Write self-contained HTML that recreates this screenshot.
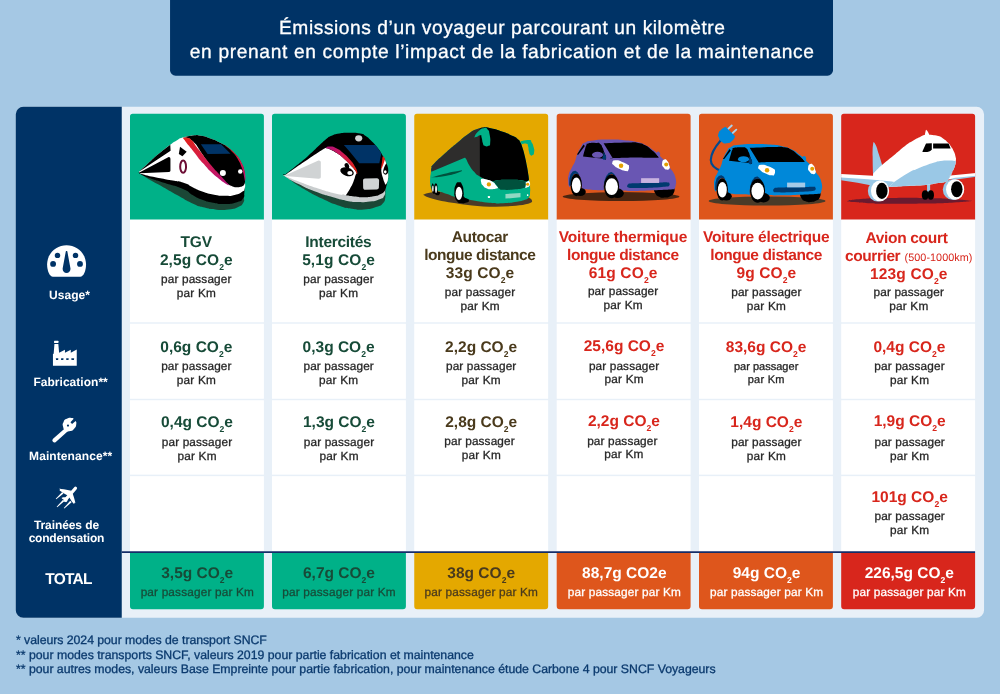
<!DOCTYPE html>
<html lang="fr">
<head>
<meta charset="utf-8">
<title>Émissions d’un voyageur parcourant un kilomètre</title>
<style>
*{box-sizing:border-box;margin:0;padding:0}
html,body{width:1000px;height:694px;overflow:hidden}
body{background:#a5c8e4;font-family:"Liberation Sans",Arial,sans-serif;position:relative;text-rendering:geometricPrecision}
.bg{position:absolute;left:0;top:0;display:block}
.title{position:absolute;left:170px;top:0;width:663px;height:76px;color:#fff;-webkit-text-stroke:.3px currentColor;text-align:center;font-size:19.2px;white-space:nowrap}
.title div{position:absolute;left:0;width:100%;line-height:24px}
.panel{position:absolute;left:0;top:0;width:1000px;height:0}
.side{position:absolute;left:16px;top:0;width:106px;height:0;color:#fff;text-align:center;font-weight:bold;font-size:12px}
.lab{position:absolute;left:0;width:106px;line-height:14px;white-space:nowrap}
.col{position:absolute;top:0;width:133.9px;height:0}
.cell{position:absolute;left:0;width:100%;height:0;text-align:center;white-space:nowrap}
.r1{top:219px}.r2{top:323px}.r3{top:400px}.r4{top:476px}.tot{top:552px}
.v,.s{position:absolute;left:0;width:100%}
.v{font-weight:bold;font-size:15.5px;line-height:18px}
.v small{font-weight:normal;font-size:10.8px;letter-spacing:.06px}
.cr{letter-spacing:-.42px}
.v sub{font-size:8.6px;line-height:0;vertical-align:-4.8px;letter-spacing:0}
.s{font-size:11.8px;line-height:14px;color:#262626;-webkit-text-stroke:.3px currentColor}
.g .v{color:#174b38}
.y .v{color:#4a3a1c}
.o .v,.r .v{color:#d8261c}
.g .tot .s{color:#174b38}
.y .tot .s{color:#4a3a1c}
.o .tot .v,.o .tot .s,.r .tot .v,.r .tot .s{color:#fff}
.notes{position:absolute;left:16px;top:0;color:#0b3a6e;font-size:12.3px;white-space:nowrap;-webkit-text-stroke:.3px currentColor}
.notes p{position:absolute;left:0;line-height:14px}

</style>
</head>
<body>
<svg class="bg" viewBox="0 0 1000 694" width="1000" height="694" aria-hidden="true"><defs><clipPath id="cp1"><path d="M132.7 113.65H261.2A2.7 2.7 0 0 1 263.9 116.35V219.65H130V116.35A2.7 2.7 0 0 1 132.7 113.65Z"/></clipPath><linearGradient id="tg1" x1="0" y1="0" x2="0" y2="1"><stop offset="0" stop-color="#e2231a"/><stop offset=".45" stop-color="#d41c4a"/><stop offset="1" stop-color="#b3107c"/></linearGradient><clipPath id="cp2"><path d="M274.7 113.65H403.2A2.7 2.7 0 0 1 405.9 116.35V219.65H272V116.35A2.7 2.7 0 0 1 274.7 113.65Z"/></clipPath><linearGradient id="ic1" x1="0" y1="0" x2="1" y2="1"><stop offset="0" stop-color="#b3107c"/><stop offset=".5" stop-color="#d41c4a"/><stop offset=".85" stop-color="#e2231a"/></linearGradient><clipPath id="cp3"><path d="M416.95 113.65H545.45A2.7 2.7 0 0 1 548.15 116.35V219.65H414.25V116.35A2.7 2.7 0 0 1 416.95 113.65Z"/></clipPath><clipPath id="cp4"><path d="M559.4 113.65H687.9A2.7 2.7 0 0 1 690.6 116.35V219.65H556.7V116.35A2.7 2.7 0 0 1 559.4 113.65Z"/></clipPath><clipPath id="cp5"><path d="M701.7 113.65H830.2A2.7 2.7 0 0 1 832.9 116.35V219.65H699V116.35A2.7 2.7 0 0 1 701.7 113.65Z"/></clipPath><clipPath id="cp6"><path d="M843.9 113.65H972.4A2.7 2.7 0 0 1 975.1 116.35V219.65H841.2V116.35A2.7 2.7 0 0 1 843.9 113.65Z"/></clipPath></defs>
<path class="b-title" d="M170.05 -10H833V70.15A5.5 5.5 0 0 1 827.5 75.65H175.55A5.5 5.5 0 0 1 170.05 70.15V-10Z" fill="#003366"/>
<path class="b-panel" d="M23.25 106.7H976.55A7.5 7.5 0 0 1 984.05 114.2V610.3A7.5 7.5 0 0 1 976.55 617.8H23.25A7.5 7.5 0 0 1 15.75 610.3V114.2A7.5 7.5 0 0 1 23.25 106.7Z" fill="#e8f0f8"/>
<path class="b-side" d="M23.25 106.7H121.75V617.8H23.25A7.5 7.5 0 0 1 15.75 610.3V114.2A7.5 7.5 0 0 1 23.25 106.7Z" fill="#003366"/>
<g class="icons" transform="translate(16 106.7)"><g class="ic-usage"><path d="M 36.95 170.09 C 33.38 170.09 31.11 163.73 31.11 157.89 C 31.11 146.87 39.86 138.56 50.57 138.56 C 61.27 138.56 70.03 146.87 70.03 157.89 C 70.03 163.73 67.76 170.09 64.19 170.09 Z" fill="#fff"/><circle cx="41.49" cy="148.68" r="2.72" fill="#003366"/><circle cx="59.52" cy="148.68" r="2.72" fill="#003366"/><circle cx="37.08" cy="157.25" r="2.92" fill="#003366"/><circle cx="63.99" cy="157.25" r="2.92" fill="#003366"/><path d="M 49.79 144.79 C 50.11 144.14 51.02 144.14 51.35 144.79 L 54.39 161.27 C 54.91 164.06 53.16 166.2 50.57 166.2 C 47.97 166.2 46.22 164.06 46.74 161.27 Z" fill="#003366"/></g><g class="ic-fab"><rect x="38.05" y="234.06" width="4.41" height="2.34" rx="0.52" fill="#fff"/><path d="M 38.44 237.36 L 42.33 237.36 L 43.11 245.93 L 48.95 242.94 L 48.95 245.93 L 54.78 242.94 L 54.78 245.93 L 60.75 242.81 L 60.75 259.03 L 36.95 259.03 L 36.95 247.35 L 37.66 247.09 Z" fill="#fff"/><rect x="39.99" y="251.51" width="2.21" height="1.82" rx="0.19" fill="#003366"/><rect x="45.05" y="251.51" width="2.34" height="1.82" rx="0.19" fill="#003366"/><rect x="50.24" y="251.51" width="2.34" height="1.82" rx="0.19" fill="#003366"/><rect x="55.43" y="251.51" width="2.59" height="1.82" rx="0.19" fill="#003366"/></g><g class="ic-maint"><path d="M 38.44 333.66 L 51.54 322.11" stroke="#fff" stroke-width="4.15" stroke-linecap="round" fill="none"/><path d="M 55.43 311.21 C 57.7 311.21 56.94 311.78 57.7 312.06 L 54.46 315.62 L 56.08 317.25 L 59.65 314.2 C 59.86 315.22 60.73 314.72 60.3 317.25 C 59.86 319.78 60.41 319.41 58.35 321.79 C 56.3 324.17 57.05 323.73 54.14 324.38 C 51.22 325.03 51.93 325.14 49.59 323.73 C 47.26 322.32 47.78 323.08 47.13 320.16 C 46.48 317.25 46.4 317.68 47.65 314.98 C 48.9 312.27 48.3 313.31 50.89 312.06 C 53.49 310.8 53.16 311.21 55.43 311.21 Z" fill="#fff"/><circle cx="51.99" cy="318.87" r="1.10" fill="#003366"/></g><g class="ic-trail"><path d="M 48.95 393.68 L 59.45 381.55" stroke="#fff" stroke-width="3.24" stroke-linecap="round" fill="none"/><path d="M 55.43 383.95 C 51.98 383.36 48.84 382.41 45.05 382.2 C 41.27 381.98 44.19 382.5 44.08 383.3 C 43.97 384.1 42.02 382.65 44.73 384.6 C 47.43 386.54 49.7 387.63 52.19 389.14 L 55.43 383.95 Z" fill="#fff"/><path d="M 56.73 386.87 C 57.49 389.46 58.4 391.58 59 394.65 C 59.6 397.72 59.19 395.54 58.55 396.08 C 57.9 396.62 58.95 398.26 57.05 396.27 C 55.15 394.28 54.25 392.17 52.84 390.11 L 56.73 386.87 Z" fill="#fff"/><path d="M 49.59 390.44 C 48.56 390.55 47.6 390.26 46.48 390.76 C 45.36 391.26 45.4 391.06 46.22 391.93 C 47.05 392.79 48.04 392.88 48.95 393.35 C 49.16 393.89 49.06 394.37 49.59 394.98 C 50.13 395.58 49.81 395.82 50.57 395.17 C 51.33 394.52 51.43 393.74 51.86 393.03 L 49.59 390.44 Z" fill="#fff"/><path d="M 46.22 385.37 L 47.53 386.81 L 40.25 392.6 L 39.74 392.03 Z" fill="#fff"/><path d="M 46.83 393.18 L 48.21 394.57 L 41.24 400.64 L 40.7 400.08 Z" fill="#fff"/><path d="M 54.23 394.09 L 55.6 395.48 L 48.38 401.81 L 47.83 401.25 Z" fill="#fff"/></g></g>
<g class="b-col b-g">
<path d="M132.7 113.65H261.2A2.7 2.7 0 0 1 263.9 116.35V219.65H130V116.35A2.7 2.7 0 0 1 132.7 113.65Z" fill="#00b188"/>
<g clip-path="url(#cp1)"><g transform="translate(130 114)"><path d="M 12.2 59.4 C 13 60.4 9 58.6 14.6 62.4 C 20.2 66.2 18.2 64.6 29 70.8 C 39.8 77 35.8 74.8 47 81 C 58.2 87.2 53.4 85.2 62.6 89.4 C 71.8 93.6 66.6 91.52 74.6 93.6 C 82.6 95.68 78.6 95.04 86.6 95.64 C 94.6 96.24 91.4 96.28 98.6 95.4 C 105.8 94.52 103.32 95.2 108.2 93 C 113.08 90.8 111.32 91.6 113.24 88.8 C 115.16 86 113.72 86 113.96 84.6 L 114.44 73.8 L 65 63 L 12.2 59.4 Z" fill="#1b4736"/><path d="M 9.44 57.96 C 9.76 58.68 7.08 58.12 10.4 60.12 C 13.72 62.12 11.2 61 19.4 63.96 C 27.6 66.92 23.8 65.32 35 69 C 46.2 72.68 43.8 71 53 75 C 62.2 79 56.2 77.4 62.6 81 C 69 84.6 65.4 83.2 72.2 85.8 C 79 88.4 75.4 87.4 83 88.8 C 90.6 90.2 87 90.2 95 90 C 103 89.8 101 90 107 88.2 C 113 86.4 110.6 87.4 113 84.6 C 115.4 81.8 113.8 81.4 114.2 79.8 L 114.92 69 L 65 60.6 L 9.44 57.96 Z" fill="#000"/><path d="M 8.97 57.7 C 11.6 55.29 10.28 56.45 16.89 50.49 C 23.5 44.5 20.98 46.39 28.79 39.78 C 36.58 33.17 34.46 35.03 40.27 30.67 C 46.09 26.31 42.13 29.08 46.22 26.71 C 50.32 24.32 47.81 25.2 52.57 23.53 C 57.33 21.87 57.04 22.37 60.49 21.7 C 63.95 21.04 59.48 21.55 62.93 21.55 C 66.39 21.55 64.78 20.66 70.85 21.7 C 76.93 22.76 74.56 22.27 81.15 24.72 C 87.77 27.17 84.6 25.86 90.67 29.08 C 96.75 32.31 94.11 30.3 99.4 34.4 C 104.69 38.49 102.52 36.62 106.53 41.37 C 110.55 46.13 108.88 43.91 111.45 48.66 C 114 53.42 112.97 51.2 114.21 55.64 C 115.46 60.08 114.91 58.01 115.18 61.99 C 115.44 65.95 115.06 65.62 115.01 67.52 C 114.96 69.43 115.01 67.64 115.01 67.69 C 114.89 69.97 115.76 71.09 114.68 74.52 C 113.6 77.96 115.16 75.84 111.8 78 C 108.45 80.17 110.2 79.72 104.6 80.99 C 99 82.29 102.2 82.04 94.99 81.84 C 87.8 81.64 90.6 81.87 82.99 80.4 C 75.4 78.92 79 79.8 72.21 77.4 C 65.4 75 68.59 76.01 62.59 73.21 C 56.6 70.41 61.4 71.28 54.19 69 C 47 66.73 51.39 68.43 41 66.36 C 30.6 64.27 33.2 65 23.01 62.77 C 12.8 60.51 14.6 60.68 10.39 59.63 L 8.97 57.7 Z" fill="#fff"/><path d="M 52.78 23.69 C 56.17 22.98 56.9 22.21 62.93 21.55 C 68.95 20.89 64.77 20.65 70.86 21.71 C 76.94 22.76 74.56 22.26 81.16 24.72 C 87.76 27.18 84.59 25.85 90.67 29.08 C 96.75 32.31 94.11 30.29 99.39 34.39 C 104.68 38.49 102.51 36.61 106.53 41.37 C 110.55 46.12 108.88 43.9 111.44 48.66 C 114 53.42 112.97 51.2 114.22 55.64 C 115.46 60.08 114.91 58.02 115.17 61.98 C 115.43 65.94 115.25 64.83 115.01 67.53 C 114.77 70.22 115.23 68.58 114.46 70.07 C 113.69 71.55 114.3 70.99 112.71 71.97 C 111.13 72.94 111.76 72.58 109.7 73 C 107.64 73.42 108.91 73.42 106.53 73.24 C 104.15 73.05 105.16 73.24 102.57 72.44 C 99.97 71.65 100.03 71.39 98.76 70.86 C 96.33 68.69 96.01 68.9 91.47 64.36 C 86.92 59.82 88.83 61.45 85.12 57.22 C 81.42 53 83.28 55.38 80.37 51.67 C 77.46 47.97 79.18 50.09 76.4 46.12 C 73.63 42.16 74.68 43.75 72.04 39.78 C 69.4 35.82 70.72 37.54 68.48 34.23 C 66.23 30.93 67.68 32.51 65.31 29.87 C 62.93 27.23 63.98 28.23 61.34 26.31 C 58.7 24.38 60.23 24.96 57.38 24.09 C 54.52 23.21 54.31 23.82 52.78 23.69 Z" fill="#000"/><path d="M 52.78 23.69 C 54.31 23.75 54.39 22.98 57.38 23.85 C 60.37 24.72 58.96 23.69 61.74 26.31 C 64.51 28.92 63.32 28.53 65.7 31.7 C 68.08 34.87 66.76 33.12 68.87 35.82 C 70.99 38.51 69.4 36.35 72.04 39.78 C 74.68 43.22 73.63 42.16 76.8 46.12 C 79.97 50.09 78.25 47.84 81.56 51.67 C 84.86 55.5 83.14 53.66 86.71 57.62 C 90.28 61.58 88.24 59.15 92.26 63.57 C 96.28 67.98 96.01 68.06 98.76 70.86 C 101.51 73.66 99.93 71.6 100.5 71.97 C 98.55 70.96 98.97 71.75 94.64 68.96 C 90.3 66.16 92 67.21 87.5 63.57 C 83.01 59.92 85.26 61.98 81.16 58.02 C 77.06 54.05 78.92 55.64 75.22 51.67 C 71.51 47.71 73.37 50.09 70.06 46.12 C 66.76 42.16 69.01 44.54 65.31 39.78 C 61.6 35.03 63.14 37.22 58.96 31.86 C 54.79 26.49 54.84 26.41 52.78 23.69 Z" fill="url(#tg1)"/><path d="M 92.26 29.64 C 94.64 31.22 94.64 30.48 99.39 34.39 C 104.15 38.3 102.51 36.61 106.53 41.37 C 110.55 46.12 108.88 43.9 111.44 48.66 C 114 53.42 112.97 51.2 114.22 55.64 C 115.46 60.08 114.91 58.02 115.17 61.98 C 115.43 65.94 115.07 65.68 115.01 67.53 C 114.75 66.2 114.8 66.47 114.22 63.57 C 113.64 60.66 114.19 62.46 113.27 58.81 C 112.34 55.16 113.11 56.93 111.44 52.63 C 109.78 48.32 111.07 50.48 108.27 45.89 C 105.47 41.29 106.93 43.19 103.04 38.83 C 99.16 34.47 100.21 35.87 96.62 32.81 C 93.03 29.74 93.71 30.69 92.26 29.64 Z" fill="url(#tg1)"/><path d="M 70.86 30.27 L 91.07 30.27 L 100.58 39.78 L 77.59 39.94 Z" fill="#003366"/><circle cx="92.89" cy="59.05" r="3.01" fill="#fff"/><circle cx="110.25" cy="57.46" r="2.22" fill="#fff"/><path d="M 8.96 57.7 C 11.6 55.3 10.29 56.45 16.89 50.48 C 23.49 44.52 20.99 46.39 28.78 39.78 C 36.58 33.18 36.45 33.7 40.28 30.67 L 40.59 36.77 L 39.09 37.72 L 8.96 57.7 Z" fill="#000"/><path d="M 9.36 58.57 L 38.69 43.03 C 39.88 42.95 40.44 43.75 40.44 44.94 L 40.44 56.59 C 40.44 57.54 39.88 57.94 39.09 57.94 L 9.76 59.36 Z" fill="#000"/><path d="M 50.03 32.81 L 56.69 37.72 L 52.41 42.32 L 48.84 40.1 Z" fill="#000"/><ellipse cx="53.12" cy="52.63" rx="2.93" ry="6.18" fill="none" stroke="#6d0e35" stroke-width="1.98"/></g></g>
<rect x="130" y="219.65" width="133.9" height="102.6" fill="#fff"/>
<rect x="130" y="323.75" width="133.9" height="75" fill="#fff"/>
<rect x="130" y="400.25" width="133.9" height="74.4" fill="#fff"/>
<rect x="130" y="476.15" width="133.9" height="75.15" fill="#fff"/>
<path d="M130 552.95H263.9V606.3A3 3 0 0 1 260.9 609.3H133A3 3 0 0 1 130 606.3V552.95Z" fill="#00b188"/>
</g>
<g class="b-col b-g">
<path d="M274.7 113.65H403.2A2.7 2.7 0 0 1 405.9 116.35V219.65H272V116.35A2.7 2.7 0 0 1 274.7 113.65Z" fill="#00b188"/>
<g clip-path="url(#cp2)"><g transform="translate(272.2 114)"><path d="M 13.8 61.56 C 14.6 62.52 10.2 59.96 16.2 64.44 C 22.2 68.92 20.6 68.28 31.8 75 C 43 81.72 38.6 79.2 49.8 84.6 C 61 90 55.4 87.8 65.4 91.2 C 75.4 94.6 71 93.4 79.8 94.8 C 88.6 96.2 83.8 96 91.8 95.4 C 99.8 94.8 97.48 95.08 103.8 93 C 110.12 90.92 107.64 92.36 110.76 89.16 C 113.88 85.96 112.36 85.32 113.16 83.4 L 113.4 69 L 67.8 63 L 13.8 61.56 Z" fill="#1b4736"/><path d="M 12.12 61.32 C 12.48 61.76 8.64 59.84 13.2 62.64 C 17.76 65.44 15.6 64.68 25.8 69.72 C 36 74.76 31.8 73.16 43.8 77.76 C 55.8 82.36 51.8 80.56 61.8 83.52 C 71.8 86.48 65.8 85.16 73.8 86.64 C 81.8 88.12 77.8 87.64 85.8 87.96 C 93.8 88.28 90.6 88.52 97.8 87.6 C 105 86.68 102.68 87.08 107.4 85.2 C 112.12 83.32 110.12 84.76 111.96 81.96 C 113.8 79.16 112.6 78.52 112.92 76.8 L 114.6 65.4 L 67.8 58.2 L 12.12 61.32 Z" fill="#c9cdce"/><path d="M 11.77 61.57 C 15.73 58.39 15.73 58.52 23.65 52.04 C 31.59 45.58 27.61 49.14 35.55 42.13 C 43.47 35.14 41.37 36.67 47.43 31.05 C 53.51 25.41 49.82 28.38 53.78 25.27 C 57.74 22.13 54.84 23.64 59.33 21.69 C 63.82 19.73 61.15 20.38 67.25 19.4 C 73.35 18.42 70.73 18.7 77.62 18.75 C 84.5 18.8 82.65 18.49 87.93 19.55 C 93.22 20.61 89.77 19.55 93.47 21.93 C 97.18 24.3 95.06 22.71 99.02 26.69 C 102.99 30.65 101.67 29.06 105.36 33.82 C 109.06 38.57 107.49 36.47 110.12 40.96 C 112.77 45.45 111.58 43.06 113.29 47.29 C 115.01 51.53 114.35 49.41 115.27 53.64 C 116.2 57.86 115.9 56.02 116.07 59.98 C 116.22 63.94 115.72 66.13 115.75 65.53 C 115.79 64.94 116.22 58.24 116.15 58.19 C 116.1 58.16 116.32 60.4 115.56 65.4 C 114.79 70.41 114.88 69.36 113.88 73.21 C 112.89 77.03 113 75.68 112.56 76.92 C 111.25 77.91 112.32 78.13 108.6 79.92 C 104.88 81.72 107.01 81.24 101.4 82.32 C 95.8 83.4 98.21 83.12 91.79 83.17 C 85.4 83.2 88.2 83.12 82.2 82.44 C 76.2 81.76 76.6 81.56 73.8 81.13 C 70.03 80.08 72.29 80.85 62.53 78 C 52.77 75.16 56.51 76.6 44.51 72.59 C 32.52 68.6 36.92 69.93 26.52 66 C 16.13 62.09 18.23 62.32 13.33 60.84 C 8.41 59.37 12.28 61.32 11.77 61.57 Z" fill="#000"/><path d="M 12.23 61.57 C 16.04 58.84 15.88 58.79 23.65 53.4 C 31.42 48 28.14 50.35 35.55 45.4 C 42.94 40.43 39.99 42.3 45.86 38.49 C 51.72 34.69 50.71 35.49 53.15 33.98 C 54.69 34.45 53.88 33.6 57.8 35.41 C 61.73 37.2 60.17 36.2 64.93 39.37 C 69.69 42.53 67.58 40.96 72.07 44.92 C 76.56 48.88 74.71 47.29 78.42 51.27 C 82.11 55.23 81.1 53.77 83.18 56.8 C 85.23 59.85 84.12 59.19 84.6 60.38 C 84.27 60.45 84.77 58.13 83.64 60.6 C 82.53 63.08 83.24 63 81.24 67.8 C 79.25 72.59 80.13 70.55 77.64 75 C 75.15 79.44 75.07 79.07 73.8 81.13 C 69.8 80.48 71.81 81.64 61.8 79.21 C 51.81 76.75 55.8 77.8 43.8 73.8 C 31.8 69.79 36.2 71.12 25.81 67.21 C 15.4 63.28 17.12 63.93 12.6 62.04 C 8.07 60.16 12.37 61.72 12.23 61.57 Z" fill="#fff"/><path d="M 53.2 33.9 C 54.73 33.4 54.15 32.29 57.8 32.39 C 61.45 32.49 59.65 31.94 64.14 34.22 C 68.64 36.49 66.78 35.43 71.28 39.21 C 75.77 42.99 73.92 41.33 77.62 45.55 C 81.32 49.78 79.94 47.87 82.38 51.89 C 84.81 55.91 84.17 54.77 84.91 57.6 C 85.65 60.43 84.7 59.45 84.6 60.38 C 84.12 59.19 85.23 59.84 83.17 56.81 C 81.11 53.77 82.11 55.22 78.41 51.26 C 74.71 47.3 76.56 48.94 72.07 44.92 C 67.57 40.9 69.16 42.17 64.93 39.21 C 60.71 36.25 62.56 37.62 59.39 36.04 C 56.21 34.45 57.48 35.17 55.42 34.45 C 53.36 33.74 53.94 34.08 53.2 33.9 Z" fill="url(#ic1)"/><path d="M 12.24 61.64 L 45.69 46.66 C 47.44 46.11 48.63 46.9 48.63 48.48 L 48.63 62.75 C 48.63 64.1 47.83 64.74 46.25 64.66 L 12.72 62.12 Z" fill="#d0d3d4"/><path d="M 71.67 31.04 L 103.38 31.04 L 109.17 39.21 L 107.11 49.28 L 86.97 49.28 L 77.62 37.78 Z" fill="#003366"/><ellipse cx="86.50" cy="24.31" rx="3.57" ry="3.09" fill="#d0d3d4"/><path d="M 110.76 42.06 C 111.45 43.23 112.34 42.88 112.82 45.55 C 113.29 48.22 113.24 46.84 112.18 50.07 C 111.13 53.3 110.49 53.5 109.65 55.22 L 108.69 54.59 C 109.07 52.42 109.33 51.44 109.8 48.09 C 110.28 44.73 109.8 46.53 110.12 44.52 C 110.44 42.52 110.54 42.88 110.76 42.06 Z" fill="#e2231a"/><path d="M 112.66 45.71 C 113.19 47.03 113.29 46.5 114.24 49.67 C 115.2 52.84 114.9 51.79 115.51 55.22 C 116.12 58.66 115.99 56.55 116.07 59.98 C 116.15 63.41 116.2 62.62 115.75 65.53 C 115.3 68.44 115.51 66.96 114.72 68.7 C 113.93 70.44 113.82 70.07 113.37 70.76 C 112.95 69.81 113.05 70.44 112.1 67.91 C 111.15 65.37 111.45 66.32 110.52 63.15 C 109.59 59.98 109.78 61.03 109.33 58.39 C 108.88 55.75 109.23 56.28 109.17 55.22 C 109.8 53.64 109.91 53.64 111.07 50.47 C 112.24 47.3 112.13 47.3 112.66 45.71 Z" fill="#fff"/><path d="M 114.24 49.36 C 116.07 52.84 116.46 56.81 115.75 58.87 C 115.04 60.93 112.5 61.41 111.39 59.58 C 110.28 57.6 111.71 52.84 114.24 49.36 Z" fill="#000"/><ellipse cx="113.05" cy="57.84" rx="1.35" ry="1.66" fill="#fff"/><ellipse cx="74.84" cy="57.76" rx="6.98" ry="4.12" transform="rotate(18 74.84 57.76)" fill="#000"/><ellipse cx="74.69" cy="51.89" rx="2.14" ry="2.85" transform="rotate(-25 74.69 51.89)" fill="#000"/><ellipse cx="77.70" cy="59.03" rx="2.62" ry="1.98" fill="#fff"/><path d="M 92.76 64.56 L 104.76 64.2 C 106.2 64.2 106.92 65.16 106.92 66.6 L 106.68 73.56 C 106.68 74.76 105.96 75.36 104.52 75.48 L 93.24 75.84 C 91.8 75.84 90.96 75 90.96 73.8 L 90.84 66.6 C 90.84 65.4 91.56 64.68 92.76 64.56 Z" fill="#d0d3d4"/></g></g>
<rect x="272" y="219.65" width="133.9" height="102.6" fill="#fff"/>
<rect x="272" y="323.75" width="133.9" height="75" fill="#fff"/>
<rect x="272" y="400.25" width="133.9" height="74.4" fill="#fff"/>
<rect x="272" y="476.15" width="133.9" height="75.15" fill="#fff"/>
<path d="M272 552.95H405.9V606.3A3 3 0 0 1 402.9 609.3H275A3 3 0 0 1 272 606.3V552.95Z" fill="#00b188"/>
</g>
<g class="b-col b-y">
<path d="M416.95 113.65H545.45A2.7 2.7 0 0 1 548.15 116.35V219.65H414.25V116.35A2.7 2.7 0 0 1 416.95 113.65Z" fill="#e4a800"/>
<g clip-path="url(#cp3)"><g transform="translate(414.4 114)"><path d="M 8.69 80.85 C 12.83 78.19 27.74 76.87 44.31 78.53 L 110.6 82.17 C 116.4 83.5 118.89 86.31 117.23 88.3 C 110.6 92.78 77.46 93.77 57.57 91.45 C 36.03 89.13 14.49 85.49 8.69 80.85 Z" fill="#4a3b28"/><path d="M 16.47 58.56 C 16.92 54.99 16.14 56.67 17.1 53.8 C 18.05 50.95 14.88 54.76 19.32 50.01 C 23.77 45.25 22.75 46.46 30.41 39.53 C 38.08 32.62 34.39 35.84 42.31 29.23 C 50.23 22.63 47.6 24.34 54.21 19.71 C 60.8 15.09 57.64 17.26 62.13 15.36 C 66.62 13.45 65.54 14.68 67.68 14.01 C 69.82 13.35 65.61 13.32 68.53 13.38 C 71.46 13.43 69.85 12.72 76.46 14.18 C 83.06 15.62 80.95 15.09 88.34 17.74 C 95.75 20.38 93.63 19.58 98.65 22.1 C 103.67 24.6 100.97 23.21 103.41 25.27 C 105.84 27.34 104.35 25.38 105.94 28.28 C 107.53 31.18 106.64 29.18 108.16 33.98 C 109.71 38.8 109.09 36.63 110.55 42.71 C 111.99 48.78 111.33 45.88 112.52 52.23 C 113.72 58.56 113.45 57.13 114.11 61.74 C 114.78 66.35 114.01 62.63 114.49 66.05 C 114.97 69.48 115.17 67.69 115.55 72 C 115.92 76.32 115.84 75.49 115.62 79.01 C 115.41 82.5 115.95 80.4 114.93 82.5 C 113.9 84.61 113.33 84.36 112.54 85.3 C 109.22 86.12 110.58 86.46 102.6 87.76 C 94.63 89.03 97.94 88.8 88.59 89.15 C 79.26 89.5 83.94 89.56 74.61 88.8 C 65.26 88.04 69.15 88.15 60.6 86.84 C 52.05 85.52 55.77 86.2 48.94 84.86 C 42.13 83.53 45.56 84.41 40.14 82.83 C 34.72 81.24 38.33 82.04 32.68 80.12 C 27.05 78.19 28.06 78.19 23.2 77.07 C 18.35 75.94 19.82 76.85 18.13 76.74 C 17.68 75.82 17.52 76.29 16.77 74.02 C 16.03 71.76 16.23 73.12 15.89 69.96 C 15.56 66.79 15.56 68.35 15.76 64.54 C 15.94 60.74 16.03 62.14 16.47 58.56 Z" fill="#00b188"/><path d="M 17.1 53.81 C 17.89 51.22 14.88 54.76 19.32 50 C 23.76 45.25 22.75 46.46 30.42 39.54 C 38.08 32.62 34.38 35.84 42.31 29.23 C 50.24 22.63 47.6 24.34 54.2 19.72 C 60.8 15.1 57.63 17.26 62.13 15.36 C 66.62 13.46 63.71 14.54 67.68 14.01 C 71.64 13.48 71.9 13.85 74.02 13.77 L 74.02 66.49 C 71.11 65.17 70.06 65.44 65.3 62.53 C 60.54 59.62 63.18 61.47 59.75 57.77 C 56.32 54.07 57.63 55.61 54.99 51.43 C 52.35 47.25 53.41 47.84 51.82 45.25 C 50.24 42.65 50.77 44.19 50.24 43.66 L 16.94 57.77 C 17 56.45 16.31 56.4 17.1 53.81 Z" fill="#2e2d2c"/><path d="M 65.36 14.96 C 66.42 14.43 64.83 13.65 68.53 13.38 C 72.22 13.12 69.85 12.72 76.46 14.18 C 83.06 15.62 80.95 15.09 88.34 17.74 C 95.75 20.38 93.63 19.58 98.65 22.1 C 103.67 24.6 100.97 23.21 103.41 25.27 C 105.84 27.34 104.35 25.38 105.94 28.28 C 107.53 31.18 106.64 29.18 108.16 33.98 C 109.71 38.8 109.09 36.63 110.55 42.71 C 111.99 48.78 111.33 45.88 112.52 52.23 C 113.72 58.56 113.45 57.13 114.11 61.74 C 114.78 66.35 114.38 64.61 114.49 66.05 C 113.38 66.54 113.95 67.49 111.15 67.52 C 108.35 67.54 111.28 66.73 106.09 66.11 C 100.92 65.52 103.06 65.72 95.6 65.7 C 88.13 65.68 89.54 65.45 83.7 66.05 C 77.87 66.66 82.3 67.87 78.1 67.52 C 73.89 67.17 75.3 66.78 71.09 65 C 66.9 63.23 67.37 63.13 65.49 62.2 L 65.36 14.96 Z" fill="#000"/><path d="M 60.38 22.26 C 61.31 20.14 61.55 19.4 64.51 16.71 C 67.46 14.01 66.35 14.59 69.26 14.17 C 72.17 13.75 71.25 13.32 73.23 15.44 C 75.21 17.56 74.36 15.92 75.21 20.51 C 76.06 25.11 76.11 25.48 75.76 29.23 C 75.42 32.98 76.03 30.92 74.18 31.77 C 72.33 32.62 72.12 32.62 70.21 31.77 C 68.31 30.92 69.45 31.93 68.47 29.23 C 67.5 26.54 68.13 26.38 67.28 23.68 C 66.43 20.99 67.78 21.36 65.93 21.15 C 64.09 20.93 63.58 22.68 61.73 23.05 C 59.89 23.42 59.46 24.37 60.38 22.26 Z" fill="#00b188"/><path d="M 105.95 27.33 C 108.8 26.91 110.73 25.69 114.51 26.06 C 118.29 26.43 115.7 26.06 117.28 28.44 C 118.87 30.82 118.45 30.03 119.26 33.2 C 120.08 36.37 120.08 35.31 119.74 37.95 C 119.4 40.59 119.53 40.2 118.23 41.12 C 116.94 42.05 117.1 42.05 115.85 40.73 C 114.61 39.4 115.22 39.94 114.51 37.16 C 113.79 34.39 114.51 34.89 113.71 32.4 C 112.92 29.92 114.29 30.45 112.13 29.71 C 109.96 28.97 108.85 30.03 107.21 30.18 L 105.95 27.33 Z" fill="#00b188"/><path d="M 16.44 63.46 C 21.85 62.02 22.19 61.52 32.69 59.13 C 43.18 56.74 42.85 57.23 47.93 56.28 C 46.46 57.09 49.73 56.74 43.52 58.72 C 37.31 60.7 38.33 60.66 29.3 62.24 C 20.27 63.82 20.72 63.05 16.44 63.46 Z" fill="#00513d"/><path d="M 17.79 69.96 C 18.42 68.61 18.53 69.06 19.14 70.64 C 19.75 72.22 19.28 74.7 19.62 74.7 C 19.96 74.7 19.48 72.33 20.16 70.64 C 20.84 68.95 20.75 69.4 21.65 69.62 C 22.55 69.85 22.31 68.95 22.87 71.32 C 23.43 73.69 22.55 74.48 23.34 76.73 C 24.13 78.99 24.72 76.85 25.24 78.09 C 25.76 79.33 25.8 79.44 24.9 80.46 C 24 81.47 24.11 81.36 22.53 81.14 C 20.95 80.91 21.51 80.46 20.16 79.78 C 18.81 79.1 19.44 80.8 18.47 79.1 C 17.5 77.41 17.47 77.75 17.25 74.7 C 17.02 71.65 17.16 71.32 17.79 69.96 Z" fill="#000"/><ellipse cx="18.47" cy="74.70" rx="0.74" ry="3.25" fill="#fff"/><ellipse cx="21.65" cy="75.18" rx="0.88" ry="3.72" fill="#fff"/><path d="M 44.54 68.27 C 46.79 68.27 46.35 67.81 47.93 71.32 C 49.5 74.82 48.72 74.93 49.28 78.77 C 49.84 82.6 48.38 80.8 49.62 82.83 C 50.86 84.86 51.38 83.62 53 84.86 C 54.63 86.1 54.72 85.31 54.49 86.55 C 54.27 87.79 55.08 87.75 52.33 88.58 C 49.57 89.42 49.5 89.62 46.23 89.06 C 42.96 88.5 44.42 88.97 42.51 86.89 C 40.59 84.81 41.31 85.76 40.48 82.83 C 39.64 79.9 39.78 81.93 40 78.09 C 40.23 74.25 39.64 74.59 41.15 71.32 C 42.66 68.05 42.28 68.27 44.54 68.27 Z" fill="#000"/><ellipse cx="44.54" cy="79.31" rx="3.32" ry="6.57" fill="#fff"/><path d="M 79.85 67.8 C 80.55 66.03 79.15 66.77 84.4 66.12 C 89.65 65.47 88.37 65.79 95.6 65.84 C 102.83 65.89 100.92 65.61 106.1 66.26 C 111.28 66.91 109.39 66.12 111.14 67.8 C 112.89 69.48 112.1 69.2 111.35 71.3 C 110.6 73.4 112.98 72.7 108.9 74.1 C 104.82 75.5 105.87 74.92 99.1 75.5 C 92.33 76.08 93.27 76.08 88.6 75.85 C 83.93 75.62 87.2 76.27 85.1 74.8 C 83 73.33 84.05 73.77 82.3 71.44 C 80.55 69.11 79.15 69.57 79.85 67.8 Z" fill="#00513d"/><path d="M 66.55 65 C 68.07 65.12 67.25 64.42 71.1 65.35 C 74.95 66.28 74.6 65.82 78.1 67.8 C 81.6 69.78 79.69 69.2 81.6 71.3 C 83.51 73.4 83.09 73.17 83.84 74.1 C 81.93 74.45 81.88 75.03 78.1 75.15 C 74.32 75.27 75.77 75.73 72.5 74.45 C 69.23 73.17 70.21 73.4 68.3 71.3 C 66.39 69.2 67.34 70.25 66.76 68.15 C 66.18 66.05 66.62 66.05 66.55 65 Z" fill="#fff"/><circle cx="74.46" cy="70.46" r="2.10" fill="#e4a000"/><path d="M 111.14 68.5 L 114.5 66.75 C 114.87 67.61 115.48 67.59 115.62 69.34 C 115.76 71.09 115.95 70.65 114.92 72 C 113.89 73.35 113.99 72.79 112.54 73.4 C 111.09 74.01 111.23 73.68 110.58 73.82 C 110.86 72.98 111.23 73.07 111.42 71.3 C 111.61 69.53 111.23 69.43 111.14 68.5 Z" fill="#fff"/><circle cx="113.24" cy="70.25" r="1.54" fill="#e4a000"/><path d="M 91.05 80.05 L 106.1 79 L 106.1 83.34 L 91.05 84.6 Z" fill="#8fd8c3"/><rect x="73.48" y="82.01" width="2.10" height="2.10" rx="0.42" fill="#fff"/><rect x="112.54" y="80.19" width="1.40" height="1.89" rx="0.42" fill="#fff"/></g></g>
<rect x="414.25" y="219.65" width="133.9" height="102.6" fill="#fff"/>
<rect x="414.25" y="323.75" width="133.9" height="75" fill="#fff"/>
<rect x="414.25" y="400.25" width="133.9" height="74.4" fill="#fff"/>
<rect x="414.25" y="476.15" width="133.9" height="75.15" fill="#fff"/>
<path d="M414.25 552.95H548.15V606.3A3 3 0 0 1 545.15 609.3H417.25A3 3 0 0 1 414.25 606.3V552.95Z" fill="#e4a800"/>
</g>
<g class="b-col b-o">
<path d="M559.4 113.65H687.9A2.7 2.7 0 0 1 690.6 116.35V219.65H556.7V116.35A2.7 2.7 0 0 1 559.4 113.65Z" fill="#de561c"/>
<g clip-path="url(#cp4)"><g transform="translate(556.6 114)"><ellipse cx="64.50" cy="82.60" rx="58.4" ry="4.5" fill="#4a2510"/><path d="M 97.05 74.1 L 118.05 74.1 C 117.75 75.73 118.61 76.32 117.14 79 C 115.67 81.68 116.49 80.63 113.64 82.15 C 110.79 83.67 112.15 83.29 108.6 83.55 C 105.05 83.81 106.22 84.16 103 82.92 C 99.78 81.68 100.92 82.78 98.94 79.84 C 96.96 76.9 97.68 76.01 97.05 74.1 Z" fill="#000"/><path d="M 12.53 72.53 C 11.75 70.85 11.72 70.94 11.58 66.98 C 11.45 63.01 11.02 64.87 12.13 60.65 C 13.24 56.4 12.79 58.79 14.92 54.3 C 17.02 49.81 16.64 51.65 18.48 47.16 C 20.33 42.67 18.48 45.58 20.47 40.83 C 22.44 36.07 21.78 36.98 24.43 32.89 C 27.06 28.79 24.16 30.7 28.39 28.53 C 32.61 26.36 28.92 27.37 37.1 26.39 C 45.31 25.41 42.9 25.68 52.96 25.6 C 63.02 25.51 58.55 25.45 67.3 26.16 C 76.03 26.87 72.05 26.16 79.18 27.73 C 86.32 29.33 82.87 28.13 88.69 30.92 C 94.51 33.68 92.39 33.02 96.63 36.07 C 100.85 39.1 98.2 37.11 101.39 40.03 C 104.55 42.93 102.96 41.87 106.14 44.79 C 109.31 47.69 108.38 45.58 110.9 48.75 C 113.4 51.91 111.76 51.12 113.66 54.3 C 115.57 57.46 114.89 55.09 116.6 58.26 C 118.32 61.42 117.79 59.85 118.82 63.81 C 119.85 67.77 119.48 68.58 119.7 70.16 C 119.9 71.71 119.75 67.65 119.45 68.5 C 119.17 69.35 119.4 70.46 118.82 72.69 C 118.24 74.95 118.07 74.38 117.71 75.23 C 110.93 75.58 111.16 75.69 97.41 76.27 C 83.64 76.85 87.95 76.85 76.4 76.97 C 64.85 77.08 67.3 76.74 62.76 76.62 C 62.29 74.61 63.02 75.41 61.4 70.6 C 59.79 65.8 60.47 65.58 57.9 62.2 C 55.33 58.82 56.86 59.05 53.69 60.45 C 50.54 61.85 50.59 61.11 48.46 66.4 C 46.3 71.7 47.66 73.02 47.26 76.34 C 43.8 76.21 44.08 76.29 36.91 75.92 C 29.71 75.54 29.43 75.46 25.7 75.23 C 25.36 73.69 25.59 74.83 24.64 70.6 C 23.71 66.38 24.64 66.16 22.9 62.55 C 21.15 58.94 21.97 59.4 19.41 59.75 C 16.84 60.1 17.02 59.52 15.2 63.59 C 13.37 67.69 14.35 69.2 13.94 72 C 13.47 72.18 13.32 74.2 12.53 72.53 Z" fill="#6956b3"/><path d="M 12.68 71.58 C 12.68 70.09 12.42 70.23 12.68 67.1 C 12.94 63.97 12.61 65 13.45 62.2 C 14.29 59.4 13.8 60.43 15.2 58.7 C 16.6 56.97 15.97 57.35 17.65 57.02 C 19.33 56.69 18.54 56.46 20.24 57.72 C 21.94 58.98 21.92 59.77 22.76 60.8 C 22.22 60.68 22.39 60.8 21.15 60.45 C 19.91 60.1 20.57 59.4 19.05 59.75 C 17.53 60.1 18 59.28 16.6 61.5 C 15.2 63.72 15.69 62.9 14.85 66.4 C 14.01 69.9 14.34 70.13 14.08 72 L 12.68 71.58 Z" fill="#003a70"/><path d="M 47.26 75.36 C 47.31 73.54 46.89 73.59 47.4 69.9 C 47.91 66.21 47.63 67.45 48.8 64.3 C 49.97 61.15 49.38 62.41 50.9 60.45 C 52.42 58.49 51.53 58.91 53.35 58.42 C 55.17 57.93 54.42 57.67 56.36 58.98 C 58.3 60.29 58.23 61.22 59.16 62.34 C 58.51 62.06 58.79 62.13 57.2 61.5 C 55.61 60.87 56.27 60.1 54.4 60.45 C 52.53 60.8 53.47 60.1 51.6 62.55 C 49.73 65 50.06 63.72 48.8 67.8 C 47.54 71.88 48.15 72.47 47.82 74.8 L 47.26 75.36 Z" fill="#003a70"/><ellipse cx="23.74" cy="77.95" rx="5.46" ry="4.06" fill="#000"/><ellipse cx="19.61" cy="70.95" rx="5.67" ry="11.20" fill="#000"/><ellipse cx="61.05" cy="79.35" rx="6.16" ry="4.76" fill="#000"/><ellipse cx="54.96" cy="72.35" rx="7.56" ry="11.90" fill="#000"/><ellipse cx="19.75" cy="71.30" rx="4.48" ry="7.70" fill="#fff"/><ellipse cx="55.10" cy="72.70" rx="6.30" ry="8.40" fill="#fff"/><path d="M 26.96 30.51 L 28.23 32.1 L 21.65 40.66 L 20.3 40.5 L 26.96 30.51 Z" fill="#000"/><path d="M 31.56 29.4 C 34.79 28.61 35.47 28.77 39.49 28.93 C 43.51 29.09 41.45 28.29 43.61 29.88 C 45.77 31.46 44.67 30.96 45.99 33.68 C 47.31 36.4 46.41 34.66 47.57 38.04 C 48.74 41.43 49.4 41.27 49.48 43.83 C 49.56 46.39 49.29 45.52 47.81 45.73 C 46.33 45.95 52.17 45.58 45.04 44.47 C 37.9 43.36 32.62 43.09 26.41 42.4 C 27.07 40.03 27.26 38.97 28.39 35.27 C 29.52 31.57 28.76 33.26 29.82 31.31 C 30.87 29.35 28.33 30.2 31.56 29.4 Z" fill="#000"/><path d="M 46.62 37.81 C 47.28 38.81 47.65 38.81 48.6 40.82 C 49.56 42.82 49.74 42.19 49.48 43.83 C 49.22 45.47 49.16 45.63 47.81 45.73 C 46.46 45.84 46.23 44.68 45.43 44.15 C 45.83 43.17 46.23 43.33 46.62 41.22 C 47.02 39.1 46.62 38.94 46.62 37.81 Z" fill="#003a70"/><ellipse cx="40.92" cy="40.82" rx="5.55" ry="3.01" fill="#6956b3"/><path d="M 47.01 29.33 C 55.1 29.06 59.74 28.66 71.26 28.53 C 82.78 28.4 75.75 28 81.57 28.93 C 87.38 29.86 84.2 28.93 88.69 31.31 C 93.18 33.68 91.34 33.02 95.04 36.07 C 98.73 39.1 97.36 37.89 99.79 40.43 C 102.23 42.96 101.48 42.58 102.33 43.68 C 97.26 43.68 97.47 43.68 87.12 43.68 C 76.74 43.68 81.83 43.54 71.26 43.68 C 60.69 43.81 60.44 43.91 55.4 44.07 C 50.36 44.22 55.9 44.12 56.13 44.16 L 47.01 29.33 Z" fill="#000"/><ellipse cx="101.78" cy="39.87" rx="1.74" ry="2.38" transform="rotate(-20 101.78 39.87)" fill="#6956b3"/><path d="M 55.74 48.59 C 56.27 46.79 56 46.58 59.31 46.37 C 62.61 46.15 61.29 46.31 65.65 47.95 C 70.01 49.59 70.14 50.17 72.39 51.28 C 72.21 52.81 73.02 54 71.83 55.88 C 70.64 57.76 71.94 57.28 68.82 56.91 C 65.7 56.54 66.18 56.49 62.48 54.77 C 58.78 53.05 59.97 53.82 57.72 51.76 C 55.48 49.7 55.21 50.39 55.74 48.59 Z" fill="#fff"/><circle cx="64.46" cy="51.76" r="2.22" fill="#e4a000"/><path d="M 105.5 49.38 C 105.76 46.84 105.92 46.31 107.72 45.58 C 109.52 44.84 109.31 45.31 110.89 47.16 C 112.48 49.01 111.79 48.75 112.48 51.12 C 113.17 53.5 113.75 52.81 112.95 54.3 C 112.16 55.78 112.11 55.94 110.1 55.56 C 108.09 55.19 108.46 55.25 106.93 53.19 C 105.4 51.12 105.24 51.92 105.5 49.38 Z" fill="#fff"/><circle cx="109.62" cy="50.41" r="1.98" fill="#e4a000"/><path d="M 70.62 71.89 C 70.76 70.84 70.52 70.97 71.65 70.15 C 72.79 69.33 68.88 69.83 74.03 69.44 C 79.18 69.04 77.46 69.28 87.11 68.96 C 96.76 68.64 95.04 68.67 102.97 68.49 C 110.89 68.3 107.67 68.17 110.89 68.41 C 114.12 68.64 111.92 68.49 112.64 69.2 C 113.35 69.91 113.19 69.62 113.03 70.55 C 112.87 71.47 113.14 71.28 112.16 71.97 C 111.19 72.66 113.17 72.21 110.1 72.61 C 107.03 73 110.63 72.74 102.97 73.16 C 95.3 73.58 96.88 73.61 87.11 73.88 C 77.34 74.14 78.92 74.14 73.63 73.96 C 68.35 73.77 72.26 74.01 71.26 73.32 C 70.25 72.63 70.49 72.95 70.62 71.89 Z" fill="#003a70"/><rect x="84.49" y="64.20" width="18.07" height="4.76" fill="#c9b3e0"/></g></g>
<rect x="556.7" y="219.65" width="133.9" height="102.6" fill="#fff"/>
<rect x="556.7" y="323.75" width="133.9" height="75" fill="#fff"/>
<rect x="556.7" y="400.25" width="133.9" height="74.4" fill="#fff"/>
<rect x="556.7" y="476.15" width="133.9" height="75.15" fill="#fff"/>
<path d="M556.7 552.95H690.6V606.3A3 3 0 0 1 687.6 609.3H559.7A3 3 0 0 1 556.7 606.3V552.95Z" fill="#de561c"/>
</g>
<g class="b-col b-o">
<path d="M701.7 113.65H830.2A2.7 2.7 0 0 1 832.9 116.35V219.65H699V116.35A2.7 2.7 0 0 1 701.7 113.65Z" fill="#de561c"/>
<g clip-path="url(#cp5)"><g transform="translate(698.8 114)"><path d="M 21.8 26.45 C 16.88 32.16 12.13 39.3 11.97 46.03 C 11.97 51.19 16.09 54.75 23.23 57.53" fill="none" stroke="#004a8f" stroke-width="2.14" stroke-linecap="round"/><path d="M 29.41 14.88 L 32.98 11.55" stroke="#a8d4ee" stroke-width="1.90" stroke-linecap="round" fill="none"/><path d="M 33.85 19.00 L 37.50 15.67" stroke="#a8d4ee" stroke-width="1.90" stroke-linecap="round" fill="none"/><path d="M 26.79 12.66 L 36.31 22.25 C 35.43 23.65 36.33 24.15 33.69 26.45 C 31.05 28.75 31.92 28.67 28.38 29.15 C 24.84 29.62 25.84 29.73 23.07 27.88 C 20.29 26.03 21.16 26.4 20.06 23.6 C 18.95 20.8 19 22.12 19.74 19.48 C 20.48 16.84 19.92 17.95 22.27 15.67 C 24.63 13.4 25.29 13.67 26.79 12.66 Z" fill="#0088d9"/><g transform="translate(3.8 4.4)"><ellipse cx="64.50" cy="82.60" rx="58.4" ry="4.5" fill="#4a3b28"/><path d="M 97.05 74.1 L 118.05 74.1 C 117.75 75.73 118.61 76.32 117.14 79 C 115.67 81.68 116.49 80.63 113.64 82.15 C 110.79 83.67 112.15 83.29 108.6 83.55 C 105.05 83.81 106.22 84.16 103 82.92 C 99.78 81.68 100.92 82.78 98.94 79.84 C 96.96 76.9 97.68 76.01 97.05 74.1 Z" fill="#000"/><path d="M 12.53 72.53 C 11.75 70.85 11.72 70.94 11.58 66.98 C 11.45 63.01 11.02 64.87 12.13 60.65 C 13.24 56.4 12.79 58.79 14.92 54.3 C 17.02 49.81 16.64 51.65 18.48 47.16 C 20.33 42.67 18.48 45.58 20.47 40.83 C 22.44 36.07 21.78 36.98 24.43 32.89 C 27.06 28.79 24.16 30.7 28.39 28.53 C 32.61 26.36 28.92 27.37 37.1 26.39 C 45.31 25.41 42.9 25.68 52.96 25.6 C 63.02 25.51 58.55 25.45 67.3 26.16 C 76.03 26.87 72.05 26.16 79.18 27.73 C 86.32 29.33 82.87 28.13 88.69 30.92 C 94.51 33.68 92.39 33.02 96.63 36.07 C 100.85 39.1 98.2 37.11 101.39 40.03 C 104.55 42.93 102.96 41.87 106.14 44.79 C 109.31 47.69 108.38 45.58 110.9 48.75 C 113.4 51.91 111.76 51.12 113.66 54.3 C 115.57 57.46 114.89 55.09 116.6 58.26 C 118.32 61.42 117.79 59.85 118.82 63.81 C 119.85 67.77 119.48 68.58 119.7 70.16 C 119.9 71.71 119.75 67.65 119.45 68.5 C 119.17 69.35 119.4 70.46 118.82 72.69 C 118.24 74.95 118.07 74.38 117.71 75.23 C 110.93 75.58 111.16 75.69 97.41 76.27 C 83.64 76.85 87.95 76.85 76.4 76.97 C 64.85 77.08 67.3 76.74 62.76 76.62 C 62.29 74.61 63.02 75.41 61.4 70.6 C 59.79 65.8 60.47 65.58 57.9 62.2 C 55.33 58.82 56.86 59.05 53.69 60.45 C 50.54 61.85 50.59 61.11 48.46 66.4 C 46.3 71.7 47.66 73.02 47.26 76.34 C 43.8 76.21 44.08 76.29 36.91 75.92 C 29.71 75.54 29.43 75.46 25.7 75.23 C 25.36 73.69 25.59 74.83 24.64 70.6 C 23.71 66.38 24.64 66.16 22.9 62.55 C 21.15 58.94 21.97 59.4 19.41 59.75 C 16.84 60.1 17.02 59.52 15.2 63.59 C 13.37 67.69 14.35 69.2 13.94 72 C 13.47 72.18 13.32 74.2 12.53 72.53 Z" fill="#0088d9"/><path d="M 12.68 71.58 C 12.68 70.09 12.42 70.23 12.68 67.1 C 12.94 63.97 12.61 65 13.45 62.2 C 14.29 59.4 13.8 60.43 15.2 58.7 C 16.6 56.97 15.97 57.35 17.65 57.02 C 19.33 56.69 18.54 56.46 20.24 57.72 C 21.94 58.98 21.92 59.77 22.76 60.8 C 22.22 60.68 22.39 60.8 21.15 60.45 C 19.91 60.1 20.57 59.4 19.05 59.75 C 17.53 60.1 18 59.28 16.6 61.5 C 15.2 63.72 15.69 62.9 14.85 66.4 C 14.01 69.9 14.34 70.13 14.08 72 L 12.68 71.58 Z" fill="#003a70"/><path d="M 47.26 75.36 C 47.31 73.54 46.89 73.59 47.4 69.9 C 47.91 66.21 47.63 67.45 48.8 64.3 C 49.97 61.15 49.38 62.41 50.9 60.45 C 52.42 58.49 51.53 58.91 53.35 58.42 C 55.17 57.93 54.42 57.67 56.36 58.98 C 58.3 60.29 58.23 61.22 59.16 62.34 C 58.51 62.06 58.79 62.13 57.2 61.5 C 55.61 60.87 56.27 60.1 54.4 60.45 C 52.53 60.8 53.47 60.1 51.6 62.55 C 49.73 65 50.06 63.72 48.8 67.8 C 47.54 71.88 48.15 72.47 47.82 74.8 L 47.26 75.36 Z" fill="#003a70"/><ellipse cx="23.74" cy="77.95" rx="5.46" ry="4.06" fill="#000"/><ellipse cx="19.61" cy="70.95" rx="5.67" ry="11.20" fill="#000"/><ellipse cx="61.05" cy="79.35" rx="6.16" ry="4.76" fill="#000"/><ellipse cx="54.96" cy="72.35" rx="7.56" ry="11.90" fill="#000"/><ellipse cx="19.75" cy="71.30" rx="4.48" ry="7.70" fill="#fff"/><ellipse cx="55.10" cy="72.70" rx="6.30" ry="8.40" fill="#fff"/><path d="M 26.96 30.51 L 28.23 32.1 L 21.65 40.66 L 20.3 40.5 L 26.96 30.51 Z" fill="#000"/><path d="M 31.56 29.4 C 34.79 28.61 35.47 28.77 39.49 28.93 C 43.51 29.09 41.45 28.29 43.61 29.88 C 45.77 31.46 44.67 30.96 45.99 33.68 C 47.31 36.4 46.41 34.66 47.57 38.04 C 48.74 41.43 49.4 41.27 49.48 43.83 C 49.56 46.39 49.29 45.52 47.81 45.73 C 46.33 45.95 52.17 45.58 45.04 44.47 C 37.9 43.36 32.62 43.09 26.41 42.4 C 27.07 40.03 27.26 38.97 28.39 35.27 C 29.52 31.57 28.76 33.26 29.82 31.31 C 30.87 29.35 28.33 30.2 31.56 29.4 Z" fill="#000"/><path d="M 46.62 37.81 C 47.28 38.81 47.65 38.81 48.6 40.82 C 49.56 42.82 49.74 42.19 49.48 43.83 C 49.22 45.47 49.16 45.63 47.81 45.73 C 46.46 45.84 46.23 44.68 45.43 44.15 C 45.83 43.17 46.23 43.33 46.62 41.22 C 47.02 39.1 46.62 38.94 46.62 37.81 Z" fill="#003a70"/><ellipse cx="40.92" cy="40.82" rx="5.55" ry="3.01" fill="#0088d9"/><path d="M 47.01 29.33 C 55.1 29.06 59.74 28.66 71.26 28.53 C 82.78 28.4 75.75 28 81.57 28.93 C 87.38 29.86 84.2 28.93 88.69 31.31 C 93.18 33.68 91.34 33.02 95.04 36.07 C 98.73 39.1 97.36 37.89 99.79 40.43 C 102.23 42.96 101.48 42.58 102.33 43.68 C 97.26 43.68 97.47 43.68 87.12 43.68 C 76.74 43.68 81.83 43.54 71.26 43.68 C 60.69 43.81 60.44 43.91 55.4 44.07 C 50.36 44.22 55.9 44.12 56.13 44.16 L 47.01 29.33 Z" fill="#000"/><ellipse cx="101.78" cy="39.87" rx="1.74" ry="2.38" transform="rotate(-20 101.78 39.87)" fill="#0088d9"/><path d="M 55.74 48.59 C 56.27 46.79 56 46.58 59.31 46.37 C 62.61 46.15 61.29 46.31 65.65 47.95 C 70.01 49.59 70.14 50.17 72.39 51.28 C 72.21 52.81 73.02 54 71.83 55.88 C 70.64 57.76 71.94 57.28 68.82 56.91 C 65.7 56.54 66.18 56.49 62.48 54.77 C 58.78 53.05 59.97 53.82 57.72 51.76 C 55.48 49.7 55.21 50.39 55.74 48.59 Z" fill="#fff"/><circle cx="64.46" cy="51.76" r="2.22" fill="#e4a000"/><path d="M 105.5 49.38 C 105.76 46.84 105.92 46.31 107.72 45.58 C 109.52 44.84 109.31 45.31 110.89 47.16 C 112.48 49.01 111.79 48.75 112.48 51.12 C 113.17 53.5 113.75 52.81 112.95 54.3 C 112.16 55.78 112.11 55.94 110.1 55.56 C 108.09 55.19 108.46 55.25 106.93 53.19 C 105.4 51.12 105.24 51.92 105.5 49.38 Z" fill="#fff"/><circle cx="109.62" cy="50.41" r="1.98" fill="#e4a000"/><path d="M 70.62 71.89 C 70.76 70.84 70.52 70.97 71.65 70.15 C 72.79 69.33 68.88 69.83 74.03 69.44 C 79.18 69.04 77.46 69.28 87.11 68.96 C 96.76 68.64 95.04 68.67 102.97 68.49 C 110.89 68.3 107.67 68.17 110.89 68.41 C 114.12 68.64 111.92 68.49 112.64 69.2 C 113.35 69.91 113.19 69.62 113.03 70.55 C 112.87 71.47 113.14 71.28 112.16 71.97 C 111.19 72.66 113.17 72.21 110.1 72.61 C 107.03 73 110.63 72.74 102.97 73.16 C 95.3 73.58 96.88 73.61 87.11 73.88 C 77.34 74.14 78.92 74.14 73.63 73.96 C 68.35 73.77 72.26 74.01 71.26 73.32 C 70.25 72.63 70.49 72.95 70.62 71.89 Z" fill="#003a70"/><rect x="84.49" y="64.20" width="18.07" height="4.76" fill="#a5cbe8"/></g></g></g>
<rect x="699" y="219.65" width="133.9" height="102.6" fill="#fff"/>
<rect x="699" y="323.75" width="133.9" height="75" fill="#fff"/>
<rect x="699" y="400.25" width="133.9" height="74.4" fill="#fff"/>
<rect x="699" y="476.15" width="133.9" height="75.15" fill="#fff"/>
<path d="M699 552.95H832.9V606.3A3 3 0 0 1 829.9 609.3H702A3 3 0 0 1 699 606.3V552.95Z" fill="#de561c"/>
</g>
<g class="b-col b-r">
<path d="M843.9 113.65H972.4A2.7 2.7 0 0 1 975.1 116.35V219.65H841.2V116.35A2.7 2.7 0 0 1 843.9 113.65Z" fill="#d8261c"/>
<g clip-path="url(#cp6)"><g transform="translate(841 114)"><path d="M 5.65 87.13 C 10.44 86.41 5.88 86.05 20 85.02 C 34.12 83.99 26.33 84.36 48.01 84.04 C 69.67 83.71 63.33 83.61 84.99 84.04 C 106.67 84.46 97.55 84.33 113 85.3 C 128.44 86.28 125.23 86.41 131.34 86.98 C 125.23 87.47 128.44 87.61 113 88.45 C 97.55 89.3 106.67 89.1 84.99 89.5 C 63.33 89.89 67.33 89.76 48.01 89.65 C 28.67 89.53 38.66 89.66 26.99 89.15 C 15.33 88.63 20.12 88.78 13.01 88.1 C 5.88 87.42 8.1 87.44 5.65 87.13 Z" fill="#6a1a2f"/><path d="M 32.3 27.96 C 33.14 29.05 32.99 27.09 34.83 31.22 C 36.68 35.34 35.73 33.73 37.84 40.33 C 39.96 46.94 40.06 47.47 41.17 51.03 L 46.57 66.49 L 32.3 66.49 C 32.08 58.57 31.66 55.55 31.66 42.71 C 31.66 29.87 32.08 32.88 32.3 27.96 Z" fill="#9ac8e6"/><path d="M -2.4 61.5 L 53.6 65 L 69 67.8 L 69 72 L 48 72.84 L 28.05 71.02 L 16.5 68.85 L -2.4 65.84 Z" fill="#9ac8e6"/><path d="M -2.4 59.96 L 31.9 61.85 L 55 62.2 L 53.6 67.66 L 27 65.35 L -2.4 63.39 Z" fill="#fff"/><path d="M 106 64.65 L 135.4 60.1 L 135.4 62.76 L 117.2 65.35 Z" fill="#9ac8e6"/><path d="M 103.2 66.05 L 109.5 61.5 L 135.4 58.84 L 135.4 61.64 L 113 64.09 L 108.8 65.35 Z" fill="#fff"/><rect x="86.05" y="69.90" width="3.08" height="10.50" fill="#9ac8e6"/><ellipse cx="84.16" cy="81.10" rx="3.36" ry="4.76" fill="#000"/><ellipse cx="89.83" cy="81.10" rx="3.15" ry="4.76" fill="#000"/><path d="M 32.3 59.52 C 35.2 56.68 33.62 57.56 41.01 51.03 C 48.42 44.5 46.83 46.28 54.49 39.93 C 62.16 33.6 58.18 36.37 64 32.01 C 69.81 27.65 66.65 30.02 71.94 26.86 C 77.21 23.69 75.9 24.5 79.86 22.5 C 83.82 20.49 82.49 21.39 83.82 20.82 L 84.78 16.23 C 85.16 16.33 84.79 15.07 85.95 16.55 C 87.11 18.02 87.5 19.3 88.26 20.67 C 89.42 20.76 88.74 20.43 91.74 20.91 C 94.75 21.39 93.86 20.91 97.29 22.1 C 100.74 23.29 98.88 22.37 102.05 24.47 C 105.23 26.59 104.17 25.8 106.8 28.45 C 109.45 31.08 107.99 29.49 109.98 32.41 C 111.96 35.31 111.23 33.73 112.75 37.16 C 114.29 40.59 113.89 39.4 114.57 42.71 C 115.27 46.01 115.15 43.64 114.82 47.07 C 114.47 50.5 114.89 49.18 113.55 53.02 C 112.2 56.85 112.49 55.39 110.78 58.56 C 109.06 61.74 108.11 62.72 108.39 62.53 C 108.67 62.34 111.89 57.18 111.61 57.99 C 111.31 58.82 109.87 61.74 107.55 65 C 105.21 68.27 108.61 66.35 104.6 67.8 C 100.59 69.25 102.03 68.28 95.5 69.35 C 88.97 70.39 95.5 70.06 84.99 70.95 C 74.5 71.83 76.33 71.37 64 72 C 51.67 72.63 53.33 72.56 48.01 72.84 L 53.61 67.65 L 31.9 61.85 L 32.3 59.52 Z" fill="#fff"/><path d="M 114.82 47.07 C 112.67 46.89 113.45 46.51 108.39 46.51 C 103.35 46.51 105.23 46.23 99.68 47.07 C 94.12 47.92 97.02 47.47 91.74 49.05 C 86.47 50.64 89.1 49.84 83.82 51.83 C 78.53 53.8 81.18 52.76 75.9 54.99 C 70.61 57.25 75.4 54.35 67.96 58.56 C 60.53 62.78 58.38 64.62 53.61 67.65 L 48.01 72.84 C 53.33 72.56 51.67 72.63 64 72 C 76.33 71.37 74.5 71.83 84.99 70.95 C 95.5 70.06 88.97 70.39 95.5 69.35 C 102.03 68.28 100.59 69.25 104.6 67.8 C 108.61 66.35 105.21 68.27 107.55 65 C 109.87 61.74 111.31 58.82 111.61 57.99 C 111.89 57.18 108.67 62.34 108.39 62.53 C 108.11 62.72 109.06 61.74 110.78 58.56 C 112.49 55.39 112.2 56.85 113.55 53.02 C 114.89 49.18 114.39 49.05 114.82 47.07 Z" fill="#9ac8e6"/><path d="M 81.28 37.8 L 85.01 29.39 L 90.8 29.23 L 90.8 35.73 C 89.58 36.37 90.06 36.87 87.15 37.64 C 84.24 38.41 83.76 37.9 82.07 38.03 L 81.28 37.8 Z" fill="#000"/><path d="M 92.14 29.39 L 107.6 29.39 L 109.66 34.47 L 92.14 34.54 Z" fill="#000"/><ellipse cx="36.80" cy="77.04" rx="9.94" ry="10.50" fill="#9ac8e6"/><ellipse cx="39.04" cy="76.90" rx="9.10" ry="10.36" fill="#fff"/><ellipse cx="40.86" cy="76.90" rx="5.74" ry="8.05" fill="#000"/><ellipse cx="112.30" cy="75.50" rx="10.50" ry="10.50" fill="#9ac8e6"/><ellipse cx="114.12" cy="75.50" rx="9.10" ry="10.22" fill="#fff"/><ellipse cx="115.80" cy="75.22" rx="5.74" ry="8.05" fill="#000"/></g></g>
<rect x="841.2" y="219.65" width="133.9" height="102.6" fill="#fff"/>
<rect x="841.2" y="323.75" width="133.9" height="75" fill="#fff"/>
<rect x="841.2" y="400.25" width="133.9" height="74.4" fill="#fff"/>
<rect x="841.2" y="476.15" width="133.9" height="75.15" fill="#fff"/>
<path d="M841.2 552.95H975.1V606.3A3 3 0 0 1 972.1 609.3H844.2A3 3 0 0 1 841.2 606.3V552.95Z" fill="#d8261c"/>
</g>
<rect class="b-rule" x="121.75" y="551.3" width="853.35" height="1.65" fill="#0a2260"/>
</svg>
<header class="title"><div class="l1" style="top:17px;letter-spacing:0.56px;left:0.78px;">Émissions d’un voyageur parcourant un kilomètre</div><div class="l2" style="top:41px;letter-spacing:0.64px;left:0.72px;">en prenant en compte l’impact de la fabrication et de la maintenance</div></header>
<main class="panel">
<aside class="side">
<div class="lab" style="top:288px;letter-spacing:0.04px;left:0.52px;">Usage*</div>
<div class="lab" style="top:375px;letter-spacing:0.03px;left:1.61px;">Fabrication**</div>
<div class="lab" style="top:449px;letter-spacing:0.08px;left:1.64px;">Maintenance**</div>
<div class="lab" style="top:518px;letter-spacing:-0.09px;left:-2.54px;">Trainées de</div>
<div class="lab" style="top:531px;letter-spacing:-0.21px;left:-2.6px;">condensation</div>
<div class="lab total" style="top:571px;letter-spacing:-0.72px;left:-0.51px;font-size:15.5px;line-height:18px;">TOTAL</div>
</aside>
<section class="col g c1" style="left:130px">
  <div class="cell r1"><div class="v n" style="top:15px;letter-spacing:-0.09px;left:-0.74px;">TGV</div><div class="v val" style="top:33px;letter-spacing:0.11px;left:-0.64px;">2,5g CO<sub>2</sub>e</div><div class="s" style="top:53px;letter-spacing:0.13px;left:-0.64px;">par passager</div><div class="s" style="top:67px;letter-spacing:0.21px;left:-0.59px;">par Km</div></div>
  <div class="cell r2"><div class="v val" style="top:16px;left:-0.65px;">0,6g CO<sub>2</sub>e</div><div class="s" style="top:36px;letter-spacing:0.13px;left:-0.58px;">par passager</div><div class="s" style="top:50px;letter-spacing:0.21px;left:-0.55px;">par Km</div></div>
  <div class="cell r3"><div class="v val" style="top:14px;">0,4g CO<sub>2</sub>e</div><div class="s" style="top:35px;letter-spacing:0.13px;left:0.07px;">par passager</div><div class="s" style="top:49px;letter-spacing:0.21px;left:0.1px;">par Km</div></div>
  <div class="cell tot"><div class="v val" style="top:13px;left:0.3px;">3,5g CO<sub>2</sub>e</div><div class="s" style="top:33px;letter-spacing:0.17px;left:0.39px;">par passager par Km</div></div>
</section>
<section class="col g c2" style="left:272px">
  <div class="cell r1"><div class="v n" style="top:15px;letter-spacing:-0.28px;left:-0.59px;">Intercités</div><div class="v val" style="top:33px;letter-spacing:0.11px;left:-0.4px;">5,1g CO<sub>2</sub>e</div><div class="s" style="top:53px;letter-spacing:0.13px;left:-0.39px;">par passager</div><div class="s" style="top:67px;letter-spacing:0.21px;left:-0.35px;">par Km</div></div>
  <div class="cell r2"><div class="v val" style="top:16px;left:-0.35px;">0,3g CO<sub>2</sub>e</div><div class="s" style="top:36px;letter-spacing:0.13px;left:-0.28px;">par passager</div><div class="s" style="top:50px;letter-spacing:0.21px;left:-0.24px;">par Km</div></div>
  <div class="cell r3"><div class="v val" style="top:14px;">1,3g CO<sub>2</sub>e</div><div class="s" style="top:35px;letter-spacing:0.13px;left:0.07px;">par passager</div><div class="s" style="top:49px;letter-spacing:0.21px;left:0.1px;">par Km</div></div>
  <div class="cell tot"><div class="v val" style="top:13px;">6,7g CO<sub>2</sub>e</div><div class="s" style="top:33px;letter-spacing:0.17px;left:0.09px;">par passager par Km</div></div>
</section>
<section class="col y c3" style="left:414.25px">
  <div class="cell r1"><div class="v n" style="top:10px;letter-spacing:-0.31px;left:-1.35px;">Autocar</div><div class="v n" style="top:28px;letter-spacing:-0.45px;left:-1.43px;">longue distance</div><div class="v val" style="top:46px;letter-spacing:0.12px;left:-1.14px;">33g CO<sub>2</sub>e</div><div class="s" style="top:66px;letter-spacing:0.13px;left:-1.14px;">par passager</div><div class="s" style="top:80px;letter-spacing:0.21px;left:-1.09px;">par Km</div></div>
  <div class="cell r2"><div class="v val" style="top:16px;left:-0.1px;">2,2g CO<sub>2</sub>e</div><div class="s" style="top:36px;letter-spacing:0.13px;">par passager</div><div class="s" style="top:50px;letter-spacing:0.21px;">par Km</div></div>
  <div class="cell r3"><div class="v val" style="top:14px;">2,8g CO<sub>2</sub>e</div><div class="s" style="top:34px;letter-spacing:0.13px;left:-1.64px;">par passager</div><div class="s" style="top:48px;letter-spacing:0.21px;left:0.1px;">par Km</div></div>
  <div class="cell tot"><div class="v val" style="top:13px;">38g CO<sub>2</sub>e</div><div class="s" style="top:33px;letter-spacing:0.17px;left:0.09px;">par passager par Km</div></div>
</section>
<section class="col o c4" style="left:556.7px">
  <div class="cell r1"><div class="v n" style="top:10px;letter-spacing:-0.19px;left:-0.69px;">Voiture thermique</div><div class="v n" style="top:28px;letter-spacing:-0.43px;left:-0.81px;">longue distance</div><div class="v val" style="top:46px;letter-spacing:0.14px;left:-0.53px;">61g CO<sub>2</sub>e</div><div class="s" style="top:65px;letter-spacing:0.13px;left:-0.53px;">par passager</div><div class="s" style="top:79px;letter-spacing:0.21px;left:-0.49px;">par Km</div></div>
  <div class="cell r2"><div class="v val" style="top:15px;left:0.4px;">25,6g CO<sub>2</sub>e</div><div class="s" style="top:36px;letter-spacing:0.13px;left:0.47px;">par passager</div><div class="s" style="top:49px;letter-spacing:0.21px;left:0.51px;">par Km</div></div>
  <div class="cell r3"><div class="v val" style="top:13px;left:0.25px;">2,2g CO<sub>2</sub>e</div><div class="s" style="top:34px;letter-spacing:0.13px;left:-1.29px;">par passager</div><div class="s" style="top:47px;letter-spacing:0.21px;left:0.35px;">par Km</div></div>
  <div class="cell tot"><div class="v val" style="top:13px;left:0.7px;">88,7g CO2e</div><div class="s" style="top:33px;letter-spacing:0.17px;left:0.78px;">par passager par Km</div></div>
</section>
<section class="col o c5" style="left:699px">
  <div class="cell r1"><div class="v n" style="top:10px;letter-spacing:-0.19px;left:0.31px;">Voiture électrique</div><div class="v n" style="top:28px;letter-spacing:-0.42px;left:0.19px;">longue distance</div><div class="v val" style="top:46px;letter-spacing:0.09px;left:0.45px;">9g CO<sub>2</sub>e</div><div class="s" style="top:66px;letter-spacing:0.13px;left:0.47px;">par passager</div><div class="s" style="top:80px;letter-spacing:0.21px;left:0.51px;">par Km</div></div>
  <div class="cell r2"><div class="v val" style="top:16px;left:0.15px;">83,6g CO<sub>2</sub>e</div><div class="s" style="top:37px;letter-spacing:0.02px;left:0.16px;font-size:11px;">par passager</div><div class="s" style="top:50px;letter-spacing:0.24px;left:0.27px;font-size:11px;">par Km</div></div>
  <div class="cell r3"><div class="v val" style="top:14px;left:0.4px;">1,4g CO<sub>2</sub>e</div><div class="s" style="top:35px;letter-spacing:0.13px;left:0.47px;">par passager</div><div class="s" style="top:49px;letter-spacing:0.21px;left:0.51px;">par Km</div></div>
  <div class="cell tot"><div class="v val" style="top:13px;left:0.6px;">94g CO<sub>2</sub>e</div><div class="s" style="top:33px;letter-spacing:0.17px;left:0.68px;">par passager par Km</div></div>
</section>
<section class="col r c6" style="left:841.2px">
  <div class="cell r1"><div class="v n" style="top:11px;letter-spacing:-0.32px;left:-1.66px;">Avion court</div><div class="v n" style="top:29px;left:0.6px;"><span class="cr">courrier</span> <small>(500-1000km)</small></div><div class="v val" style="top:47px;letter-spacing:0.16px;left:0.68px;">123g CO<sub>2</sub>e</div><div class="s" style="top:66px;letter-spacing:0.13px;left:0.67px;">par passager</div><div class="s" style="top:80px;letter-spacing:0.21px;left:0.7px;">par Km</div></div>
  <div class="cell r2"><div class="v val" style="top:16px;left:1.3px;">0,4g CO<sub>2</sub>e</div><div class="s" style="top:36px;letter-spacing:0.13px;left:1.36px;">par passager</div><div class="s" style="top:50px;letter-spacing:0.21px;left:1.41px;">par Km</div></div>
  <div class="cell r3"><div class="v val" style="top:13px;left:1.5px;">1,9g CO<sub>2</sub>e</div><div class="s" style="top:35px;letter-spacing:0.13px;left:1.56px;">par passager</div><div class="s" style="top:49px;letter-spacing:0.21px;left:1.6px;">par Km</div></div>
  <div class="cell r4"><div class="v val" style="top:13px;left:1.5px;">101g CO<sub>2</sub>e</div><div class="s" style="top:33px;letter-spacing:0.13px;left:1.56px;">par passager</div><div class="s" style="top:47px;letter-spacing:0.21px;left:1.6px;">par Km</div></div>
  <div class="cell tot"><div class="v val" style="top:13px;left:1.2px;">226,5g CO<sub>2</sub>e</div><div class="s" style="top:33px;letter-spacing:0.17px;left:1.28px;">par passager par Km</div></div>
</section>
</main>
<footer class="notes"><p class="nl" style="top:633px;letter-spacing:-0.05px;">* valeurs 2024 pour modes de transport SNCF</p><p class="nl" style="top:648px;letter-spacing:-0.01px;">** pour modes transports SNCF, valeurs 2019 pour partie fabrication et maintenance</p><p class="nl" style="top:662px;letter-spacing:-0.02px;">** pour autres modes, valeurs Base Empreinte pour partie fabrication, pour maintenance étude Carbone 4 pour SNCF Voyageurs</p></footer>
</body>
</html>
